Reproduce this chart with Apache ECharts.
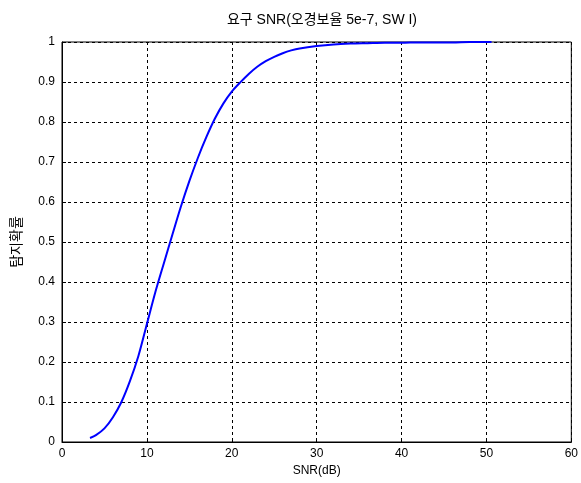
<!DOCTYPE html>
<html><head><meta charset="utf-8">
<script src="https://cdn.jsdelivr.net/npm/echarts@6/dist/echarts.min.js"></script>
<style>html,body{margin:0;padding:0;background:#fff}#c{width:581px;height:483px}</style>
</head><body><div id="c"></div>
<script>
const titleText = "요구 SNR(오경보율 5e-7, SW I)";
const xName = "SNR(dB)";
const yName = "탐지확률";
const snr = [3.3, 4, 5, 6, 7, 8, 9, 10, 11, 12, 13, 14, 15, 16, 17, 18, 19, 20, 21, 22, 23, 24, 25, 26, 27, 28, 30, 32, 34, 36, 38, 40, 42, 44, 46, 48, 50.6];
const pd = [0.01, 0.017, 0.034, 0.062, 0.1, 0.152, 0.215, 0.295, 0.375, 0.447, 0.518, 0.588, 0.652, 0.71, 0.762, 0.808, 0.846, 0.876, 0.899, 0.92, 0.938, 0.952, 0.963, 0.972, 0.979, 0.984, 0.99, 0.994, 0.996, 0.997, 0.998, 0.998, 0.999, 0.999, 0.999, 1.0, 1.0];
const font = "'Liberation Sans', Arial, 'Noto Sans CJK KR', sans-serif";
const chart = echarts.init(document.getElementById('c'));
const dashed = {show: true, lineStyle: {color: '#000', type: [3, 3], width: 1}};
chart.setOption({
  animation: false,
  backgroundColor: '#fff',
  title: {text: titleText, left: 317, top: 8, textAlign: 'center',
    textStyle: {fontFamily: font, fontSize: 14, fontWeight: 'normal', color: '#000'}},
  grid: {left: 62, right: 9, top: 42, bottom: 41, show: true, borderColor: '#000', borderWidth: 1},
  xAxis: {type: 'value', min: 0, max: 60, interval: 10,
    name: xName, nameLocation: 'middle', nameGap: 23,
    nameTextStyle: {fontFamily: font, fontSize: 12, color: '#000'},
    axisLine: {lineStyle: {color: '#000'}}, axisTick: {inside: true, length: 4, lineStyle: {color: '#000'}},
    axisLabel: {fontFamily: font, fontSize: 12, color: '#000', margin: 6},
    splitLine: dashed},
  yAxis: {type: 'value', min: 0, max: 1, interval: 0.1,
    name: yName, nameLocation: 'middle', nameGap: 38,
    nameTextStyle: {fontFamily: font, fontSize: 14, color: '#000'},
    axisLine: {lineStyle: {color: '#000'}}, axisTick: {inside: true, length: 4, lineStyle: {color: '#000'}},
    axisLabel: {fontFamily: font, fontSize: 12, color: '#000', margin: 7,
      formatter: v => (Math.round(v*10)/10).toString()},
    splitLine: dashed},
  series: [{type: 'line', data: snr.map((x, i) => [x, pd[i]]), showSymbol: false,
    lineStyle: {color: '#0000ff', width: 2}, smooth: 0.3}]
});
</script></body></html>
